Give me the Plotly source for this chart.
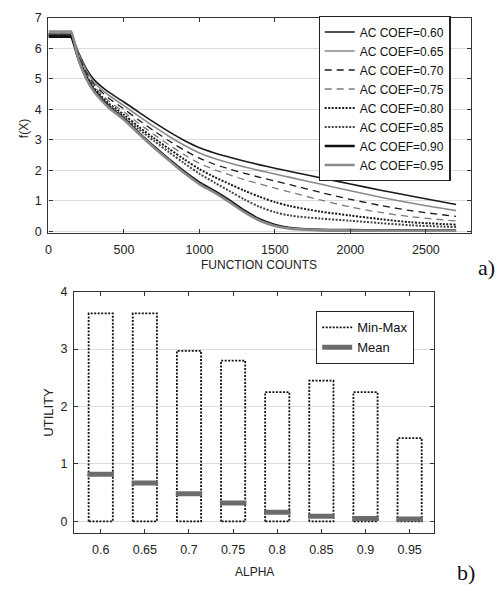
import plotly.graph_objects as go

# ---------------- data: panel a ----------------
function_counts = [0, 140, 150, 200, 250, 300, 350, 400, 500, 600, 700, 800, 900, 1000,
                   1100, 1200, 1300, 1400, 1500, 1600, 1800, 2000, 2200, 2400, 2700]
fx_060 = [6.45, 6.45, 6.45, 5.85, 5.34, 4.98, 4.75, 4.56, 4.24, 3.90, 3.57, 3.26, 2.98, 2.74,
          2.57, 2.43, 2.30, 2.18, 2.07, 1.96, 1.76, 1.55, 1.35, 1.16, 0.88]
fx_065 = [6.50, 6.50, 6.50, 5.80, 5.28, 4.90, 4.66, 4.46, 4.12, 3.77, 3.43, 3.11, 2.82, 2.57,
          2.39, 2.24, 2.11, 1.99, 1.88, 1.77, 1.55, 1.33, 1.12, 0.93, 0.68]
fx_070 = [6.42, 6.42, 6.42, 5.76, 5.22, 4.83, 4.58, 4.36, 4.01, 3.64, 3.29, 2.96, 2.66, 2.40,
          2.20, 2.04, 1.90, 1.77, 1.65, 1.53, 1.28, 1.05, 0.85, 0.68, 0.49]
fx_075 = [6.48, 6.48, 6.48, 5.72, 5.17, 4.77, 4.50, 4.27, 3.91, 3.53, 3.17, 2.83, 2.51, 2.23,
          2.02, 1.85, 1.69, 1.55, 1.42, 1.29, 1.03, 0.80, 0.62, 0.48, 0.34]
fx_080 = [6.40, 6.40, 6.40, 5.68, 5.12, 4.71, 4.43, 4.19, 3.82, 3.42, 3.05, 2.70, 2.36, 2.04,
          1.78, 1.55, 1.33, 1.13, 0.96, 0.83, 0.65, 0.52, 0.40, 0.30, 0.22]
fx_085 = [6.45, 6.45, 6.45, 5.65, 5.08, 4.66, 4.38, 4.13, 3.75, 3.34, 2.96, 2.59, 2.23, 1.89,
          1.60, 1.32, 1.04, 0.80, 0.63, 0.52, 0.42, 0.35, 0.27, 0.20, 0.14]
fx_090 = [6.38, 6.38, 6.38, 5.63, 5.04, 4.62, 4.33, 4.08, 3.69, 3.22, 2.77, 2.35, 1.95, 1.60,
          1.32, 1.01, 0.67, 0.39, 0.21, 0.11, 0.05, 0.04, 0.03, 0.03, 0.03]
fx_095 = [6.55, 6.55, 6.55, 5.62, 5.01, 4.59, 4.30, 4.05, 3.66, 3.19, 2.74, 2.32, 1.91, 1.55,
          1.27, 0.96, 0.62, 0.35, 0.18, 0.09, 0.04, 0.03, 0.02, 0.02, 0.02]
series_names = ["AC COEF=0.60", "AC COEF=0.65", "AC COEF=0.70", "AC COEF=0.75",
                "AC COEF=0.80", "AC COEF=0.85", "AC COEF=0.90", "AC COEF=0.95"]
series_values = [fx_060, fx_065, fx_070, fx_075, fx_080, fx_085, fx_090, fx_095]

# ---------------- data: panel b ----------------
alpha = [0.6, 0.65, 0.7, 0.75, 0.8, 0.85, 0.9, 0.95]
alpha_labels = ["0.6", "0.65", "0.7", "0.75", "0.8", "0.85", "0.9", "0.95"]
utility_min = [0, 0, 0, 0, 0, 0, 0, 0]
utility_max = [3.62, 3.62, 2.97, 2.80, 2.25, 2.45, 2.25, 1.45]
utility_mean = [0.82, 0.67, 0.48, 0.32, 0.16, 0.09, 0.05, 0.04]

# ---------------- styles ----------------
FONT = "Liberation Sans, Arial, sans-serif"
styles = [
    dict(color="#1a1a1a", width=1.6, dash="solid"),
    dict(color="#8a8a8a", width=1.6, dash="solid"),
    dict(color="#1a1a1a", width=1.3, dash="7px,5px"),
    dict(color="#7a7a7a", width=1.3, dash="7px,5px"),
    dict(color="#1a1a1a", width=2.0, dash="2px,1.5px"),
    dict(color="#444444", width=2.0, dash="2px,1.5px"),
    dict(color="#111111", width=2.6, dash="solid"),
    dict(color="#8a8a8a", width=2.6, dash="solid"),
]

fig = go.Figure()

for name, vals, st in zip(series_names, series_values, styles):
    fig.add_trace(go.Scatter(x=function_counts, y=vals, mode="lines", name=name,
                             line=dict(shape="spline", smoothing=0.8, **st),
                             xaxis="x", yaxis="y", legend="legend"))

box_hw = 0.0137
mean_hw = 0.015
bx, by, mx, my = [], [], [], []
for a, lo, hi, m in zip(alpha, utility_min, utility_max, utility_mean):
    bx += [a - box_hw, a - box_hw, a + box_hw, a + box_hw, a - box_hw, None]
    by += [lo, hi, hi, lo, lo, None]
    mx += [a - mean_hw, a + mean_hw, None]
    my += [m, m, None]

fig.add_trace(go.Scatter(x=bx, y=by, mode="lines", name="Min-Max",
                         line=dict(color="#111111", width=1.8, dash="2px,1.5px"),
                         xaxis="x2", yaxis="y2", legend="legend2"))
fig.add_trace(go.Scatter(x=mx, y=my, mode="lines", name="Mean",
                         line=dict(color="#6b6b6b", width=5),
                         xaxis="x2", yaxis="y2", legend="legend2"))

axis_common = dict(showline=True, linecolor="#333333", linewidth=1.4, mirror="ticks",
                   ticks="inside", ticklen=4, tickcolor="#333333", zeroline=False,
                   tickfont=dict(family=FONT, size=12.5, color="#222222"))

fig.update_layout(
    width=503, height=593,
    margin=dict(l=0, r=0, t=0, b=0),
    paper_bgcolor="white", plot_bgcolor="white",
    showlegend=True,
    xaxis=dict(domain=[0.0909, 0.9364], anchor="y", range=[0, 2800],
               tickvals=[0, 500, 1000, 1500, 2000, 2500], showgrid=False,
               ticklabelstandoff=5, **axis_common),
    yaxis=dict(domain=[0.6105, 0.9815], anchor="x", range=[-0.05, 7],
               tickvals=[0, 1, 2, 3, 4, 5, 6, 7], showgrid=True, gridcolor="#dcdcdc",
               ticklabelstandoff=3, **axis_common),
    xaxis2=dict(domain=[0.1425, 0.8618], anchor="y2", range=[0.57, 0.9775],
                tickvals=alpha, ticktext=alpha_labels, showgrid=False,
                ticklabelstandoff=5, **axis_common),
    yaxis2=dict(domain=[0.0933, 0.5093], anchor="x2", range=[-0.2, 4],
                tickvals=[0, 1, 2, 3, 4], showgrid=True, gridcolor="#dcdcdc",
                ticklabelstandoff=3, **axis_common),
    legend=dict(x=0.895, y=0.984, xanchor="right", yanchor="top",
                bgcolor="white", bordercolor="#222222", borderwidth=1.2,
                font=dict(family=FONT, size=12, color="#111111"),
                tracegroupgap=0, itemwidth=30),
    legend2=dict(x=0.822, y=0.4756, xanchor="right", yanchor="top",
                 bgcolor="white", bordercolor="#222222", borderwidth=1.2,
                 font=dict(family=FONT, size=13, color="#111111"),
                 tracegroupgap=0, itemwidth=30),
)

ann_font = dict(family=FONT, size=12, color="#222222")
annotations = [
    dict(text="FUNCTION COUNTS", x=258 / 503, y=1 - 264 / 593, font=ann_font),
    dict(text="f(X)", x=21 / 503, y=1 - 124 / 593, font=ann_font, textangle=-90),
    dict(text="ALPHA", x=253 / 503, y=1 - 578 / 593, font=ann_font),
    dict(text="UTILITY", x=46 / 503, y=1 - 414 / 593,
         font=dict(family=FONT, size=13, color="#222222"), textangle=-90),
    dict(text="a)", x=486 / 503, y=1 - 266 / 593,
         font=dict(family="Liberation Serif, Times New Roman, serif", size=22, color="#111111")),
    dict(text="b)", x=466 / 503, y=1 - 578 / 593,
         font=dict(family="Liberation Serif, Times New Roman, serif", size=22, color="#111111")),
]
for a in annotations:
    fig.add_annotation(xref="paper", yref="paper", showarrow=False,
                       xanchor="center", yanchor="middle", **a)

fig.write_html("out.html", config={"displayModeBar": False},
               post_script="document.body.style.margin='0px';document.body.style.overflow='hidden';")
